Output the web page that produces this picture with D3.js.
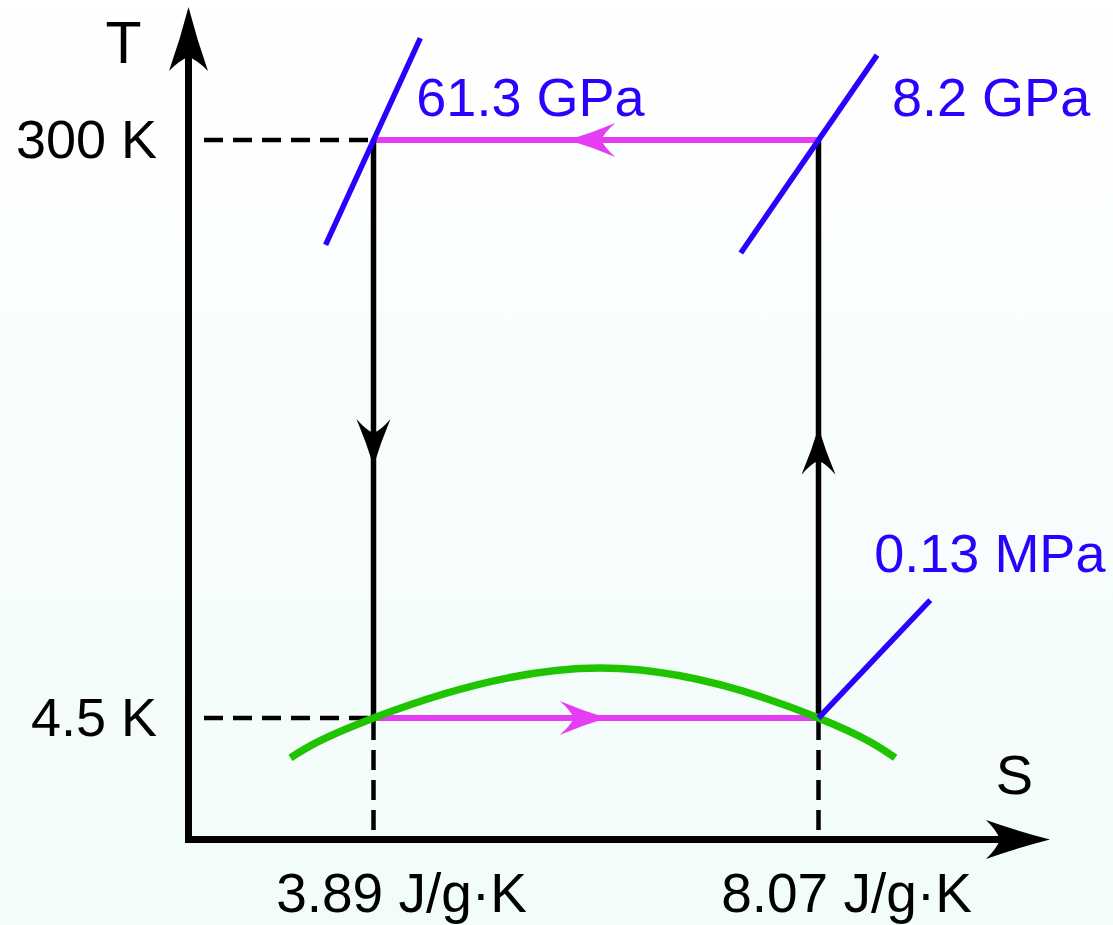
<!DOCTYPE html>
<html>
<head>
<meta charset="utf-8">
<script src="https://cdn.jsdelivr.net/npm/d3@7"></script>
<style>
  html, body { margin: 0; padding: 0; background: #fff; }
  svg { display: block; }
  text { font-family: "Liberation Sans", Arial, Helvetica, sans-serif; }
</style>
</head>
<body>
<div id="chart"></div>
<script>
// Data
const sTicks = [3.89, 8.07];
const sTickLabels = ["3.89 J/g·K", "8.07 J/g·K"];
const tTicks = [4.5, 300];
const tTickLabels = ["4.5 K", "300 K"];

// cycle states (S in J/g·K, T in K)
const stateS = [3.89, 8.07, 8.07, 3.89];
const stateT = [4.5, 4.5, 300, 300];
// processes: from state -> to state, kind
const processFrom = [0, 1, 2, 3];
const processTo = [1, 2, 3, 0];
const processKind = ["isotherm", "adiabat", "isotherm", "adiabat"];

// isobars (end points, S / T)
const isobarLabels = ["61.3 GPa", "8.2 GPa", "0.13 MPa"];
const isobarS = [[3.44, 4.33], [7.34, 8.62], [8.07, 9.12]];
const isobarT = [[140, 629], [132, 556], [4.5, 10.6]];

// liquid-vapour coexistence curve
const domeS = [3.11, 3.89, 6.02, 8.07, 8.79];
const domeT = [3.37, 4.5, 6.47, 4.5, 3.37];

(function () {
  // Dimensions
  const width = 1113;
  const height = 925;
  const axisX = 188.5;
  const axisY = 839.5;
  const axisTop = 7;
  const axisRight = 1050;

  // Style
  const magenta = "#e63cf4";
  const blue = "#2a00ff";
  const green = "#1fc300";

  // layout of annotations
  const arrowFrac = [0.524, 0.502, 0.562, 0.564];
  const isobarLabelOffset = [[-4, 78], [15, 61], [-56, -28]];

  const x = d3.scaleLinear().domain(d3.extent(sTicks)).range([373.5, 818.5]);
  const y = d3.scaleLog().domain(d3.extent(tTicks)).range([718, 140]);

  const svg = d3
    .select("#chart")
    .append("svg")
    .attr("width", width)
    .attr("height", height)
    .attr("viewBox", [0, 0, width, height]);

  // Background
  const grad = svg
    .append("defs")
    .append("linearGradient")
    .attr("id", "bg")
    .attr("x1", 0)
    .attr("y1", 0)
    .attr("x2", 0)
    .attr("y2", 1);
  grad.append("stop").attr("offset", 0).attr("stop-color", "#ffffff");
  grad.append("stop").attr("offset", 1).attr("stop-color", "#f1fcfb");
  svg
    .append("rect")
    .attr("width", width)
    .attr("height", height)
    .attr("fill", "url(#bg)");

  // arrow head, tip at (0,0), pointing along +x
  function arrowPath(L, W, N) {
    return (
      `M0,0 Q${-L * 0.5},${-W * 0.42} ${-L},${-W} ` +
      `Q${-N - 3},${-W * 0.45} ${-N},0 ` +
      `Q${-N - 3},${W * 0.45} ${-L},${W} ` +
      `Q${-L * 0.5},${W * 0.42} 0,0 Z`
    );
  }
  const bigArrow = arrowPath(64, 19.5, 50);
  const smallArrow = arrowPath(47, 17, 33);

  function drawArrow(px, py, angle, d, color) {
    svg
      .append("path")
      .attr("d", d)
      .attr("fill", color)
      .attr("transform", `translate(${px},${py}) rotate(${angle})`);
  }

  // Dashed guides
  const guides = svg
    .append("g")
    .attr("stroke", "#000")
    .attr("stroke-width", 4.5)
    .attr("fill", "none");
  tTicks.forEach((t) => {
    guides
      .append("line")
      .attr("x1", axisX + 15.5)
      .attr("x2", x(sTicks[0]) - 2)
      .attr("y1", y(t))
      .attr("y2", y(t))
      .attr("stroke-dasharray", "19,10");
  });
  sTicks.forEach((s) => {
    guides
      .append("line")
      .attr("x1", x(s))
      .attr("x2", x(s))
      .attr("y1", y(tTicks[0]) + 2)
      .attr("y2", axisY - 9)
      .attr("stroke-dasharray", "20,10");
  });

  // Cycle
  const cycle = svg.append("g").attr("fill", "none");
  processFrom.forEach((f, i) => {
    const t = processTo[i];
    const x1 = x(stateS[f]);
    const y1 = y(stateT[f]);
    const x2 = x(stateS[t]);
    const y2 = y(stateT[t]);
    const iso = processKind[i] === "isotherm";
    cycle
      .append("line")
      .attr("x1", x1)
      .attr("y1", y1)
      .attr("x2", x2)
      .attr("y2", y2)
      .attr("stroke", iso ? magenta : "#000")
      .attr("stroke-width", iso ? 6 : 5.5);
  });

  // Coexistence dome
  const line = d3
    .line()
    .x((d) => x(d[0]))
    .y((d) => y(d[1]))
    .curve(d3.curveNatural);
  svg
    .append("path")
    .attr("d", line(d3.zip(domeS, domeT)))
    .attr("fill", "none")
    .attr("stroke", green)
    .attr("stroke-width", 7.5);

  // Isobars
  isobarLabels.forEach((label, i) => {
    const pts = d3.zip(isobarS[i], isobarT[i]);
    svg
      .append("line")
      .attr("x1", x(pts[0][0]))
      .attr("y1", y(pts[0][1]))
      .attr("x2", x(pts[1][0]))
      .attr("y2", y(pts[1][1]))
      .attr("stroke", blue)
      .attr("stroke-width", 5.5);
    svg
      .append("text")
      .attr("x", x(pts[1][0]) + isobarLabelOffset[i][0])
      .attr("y", y(pts[1][1]) + isobarLabelOffset[i][1])
      .attr("fill", blue)
      .attr("font-size", 54)
      .text(label);
  });

  // direction arrows on the cycle
  processFrom.forEach((f, i) => {
    const t = processTo[i];
    const x1 = x(stateS[f]);
    const y1 = y(stateT[f]);
    const x2 = x(stateS[t]);
    const y2 = y(stateT[t]);
    const k = arrowFrac[i];
    const angle = (Math.atan2(y2 - y1, x2 - x1) * 180) / Math.PI;
    drawArrow(
      x1 + (x2 - x1) * k,
      y1 + (y2 - y1) * k,
      angle,
      smallArrow,
      processKind[i] === "isotherm" ? magenta : "#000"
    );
  });

  // Axes
  const axes = svg.append("g").attr("stroke", "#000").attr("stroke-width", 7);
  axes
    .append("line")
    .attr("x1", axisX)
    .attr("x2", axisX)
    .attr("y1", axisY + 3.5)
    .attr("y2", axisTop + 48);
  axes
    .append("line")
    .attr("x1", axisX - 3.5)
    .attr("x2", axisRight - 46)
    .attr("y1", axisY)
    .attr("y2", axisY);
  drawArrow(axisX, axisTop, -90, bigArrow, "#000");
  drawArrow(axisRight, axisY, 0, bigArrow, "#000");

  // Axis titles
  svg
    .append("text")
    .attr("x", 123.5)
    .attr("y", 63)
    .attr("text-anchor", "middle")
    .attr("font-size", 59)
    .text("T");
  svg
    .append("text")
    .attr("x", 1014.5)
    .attr("y", 794)
    .attr("text-anchor", "middle")
    .attr("font-size", 56)
    .text("S");

  // Tick labels
  svg
    .append("g")
    .selectAll("text")
    .data(tTicks)
    .join("text")
    .attr("x", 157)
    .attr("y", (d) => y(d) + 18)
    .attr("text-anchor", "end")
    .attr("font-size", 54)
    .text((d, i) => tTickLabels[i]);
  svg
    .append("g")
    .selectAll("text")
    .data(sTicks)
    .join("text")
    .attr("x", (d) => x(d) + 28)
    .attr("y", 912)
    .attr("text-anchor", "middle")
    .attr("font-size", 55)
    .text((d, i) => sTickLabels[i]);
})();
</script>
</body>
</html>
